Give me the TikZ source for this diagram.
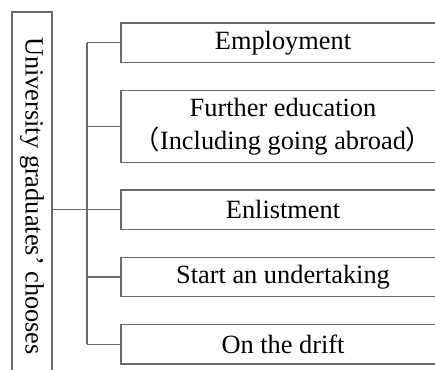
\documentclass[tikz,border=0pt]{standalone}
\usepackage{fontspec}
\setmainfont{Liberation Serif}
\newfontfamily\cjk{Noto Sans CJK SC}
\usepackage{tikz}
\usetikzlibrary{positioning,calc}

\definecolor{linegray}{HTML}{6A6A6A}

\tikzset{
  choice/.style={draw=linegray,line width=0.6pt,rectangle,minimum width=6.48cm,
    minimum height=0.79cm,inner sep=0pt,outer sep=0pt,align=center,font=\fontsize{15}{18.8}\selectfont},
  link/.style={draw=linegray,line width=0.6pt}
}

\begin{document}
\begin{tikzpicture}[node distance=0.555cm]
  \useasboundingbox (0,0) rectangle (8.7,-7.4);
  \clip (0,0) rectangle (8.7,-7.4);
  \node[choice]           (employ)  at (5.66,-0.855) {Employment};
  \node[choice,minimum height=1.44cm] (further) [below=of employ]  {Further education\\{\cjk （}Including going abroad{\cjk ）}};
  \node[choice]           (enlist)  [below=of further] {Enlistment};
  \node[choice]           (startup) [below=of enlist]  {Start an undertaking};
  \node[choice]           (drift)   [below=of startup] {On the drift};
  \node[choice,rotate=-90,minimum width=7.36cm,minimum height=0.8cm] (grads) at (0.64,-3.92) {University graduates’ chooses};
  \coordinate (tr) at (1.74,0);
  \path[link] (grads.north |- enlist) -- (enlist.west -| tr)
              (employ.west -| tr) -- (drift.west -| tr);
  \foreach \b in {employ,further,enlist,startup,drift}
    \path[link] (\b.west -| tr) -- (\b.west);
\end{tikzpicture}
\end{document}
